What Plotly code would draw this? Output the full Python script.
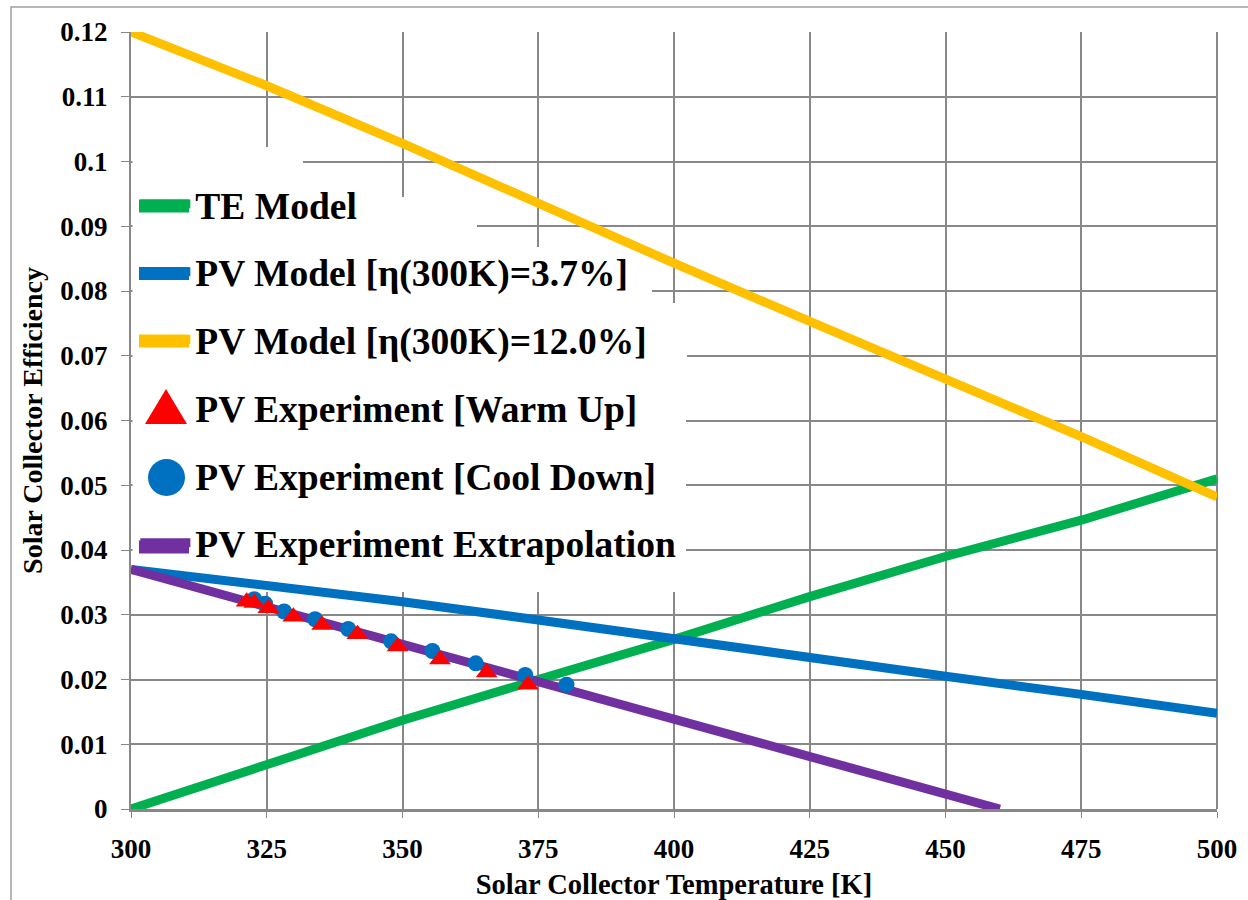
import plotly.graph_objects as go

# ---- data ----
temp_model = [300, 325, 350, 375, 400, 425, 450, 475, 500]
te_model = [0.0, 0.0068, 0.0137, 0.0200, 0.0262, 0.0328, 0.0390, 0.0446, 0.0510]
pv_model_37 = [0.0370, 0.0346, 0.0320, 0.0292, 0.0262, 0.0234, 0.0205, 0.0177, 0.0148]
pv_model_120 = [0.1200, 0.1117, 0.1028, 0.0935, 0.0843, 0.0753, 0.0664, 0.0575, 0.0482]

warm_T = [321.3, 322.7, 325.3, 329.9, 335.2, 341.7, 349.1, 356.9, 365.5, 373.1]
warm_eff = [0.0320, 0.0318, 0.0310, 0.0297, 0.0284, 0.0270, 0.0251, 0.0231, 0.0211, 0.0192]

cool_T = [322.7, 324.7, 328.2, 333.9, 340.0, 347.9, 355.5, 363.5, 372.6, 380.2]
cool_eff = [0.0324, 0.0317, 0.0305, 0.0293, 0.0278, 0.0259, 0.0244, 0.0225, 0.0207, 0.0192]

extrap_T = [300, 350, 400, 460]
extrap_eff = [0.0370, 0.0254, 0.0140, 0.0]

x_ticks = [300, 325, 350, 375, 400, 425, 450, 475, 500]
y_ticks = [0, 0.01, 0.02, 0.03, 0.04, 0.05, 0.06, 0.07, 0.08, 0.09, 0.1, 0.11, 0.12]
y_ticktext = ["0", "0.01", "0.02", "0.03", "0.04", "0.05", "0.06", "0.07", "0.08",
              "0.09", "0.1", "0.11", "0.12"]

FONT = "Liberation Serif"
GREEN, BLUE, YELLOW, RED, PURPLE = "#00B050", "#0070C0", "#FFC000", "#FF0000", "#7030A0"

X_RANGE = [300, 500]
Y_RANGE = [0, 0.12]
# plot-area geometry (pixels) used to place legend decorations
L, R, T, B = 131, 1217, 32, 809


def px(x):
    return (x - L) / (R - L)


def py(y):
    return (B - y) / (B - T)


def dx(x):
    return X_RANGE[0] + px(x) * (X_RANGE[1] - X_RANGE[0])


def dy(y):
    return Y_RANGE[0] + py(y) * (Y_RANGE[1] - Y_RANGE[0])


fig = go.Figure()
fig.add_trace(go.Scatter(x=temp_model, y=te_model, mode="lines", name="TE Model",
                         line=dict(color=GREEN, width=9), legendrank=1, legendgroup="a"))
fig.add_trace(go.Scatter(x=temp_model, y=pv_model_37, mode="lines",
                         name="PV Model [η(300K)=3.7%]",
                         line=dict(color=BLUE, width=9), legendrank=2, legendgroup="b"))
fig.add_trace(go.Scatter(x=temp_model, y=pv_model_120, mode="lines",
                         name="PV Model [η(300K)=12.0%]",
                         line=dict(color=YELLOW, width=9), legendrank=3, legendgroup="c"))
fig.add_trace(go.Scatter(x=extrap_T, y=extrap_eff, mode="lines",
                         name="PV Experiment Extrapolation",
                         line=dict(color=PURPLE, width=9), legendrank=6, legendgroup="f"))
fig.add_trace(go.Scatter(x=cool_T, y=cool_eff, mode="markers",
                         name="PV Experiment [Cool Down]",
                         marker=dict(color=BLUE, size=16, symbol="circle"),
                         legendrank=5, legendgroup="e"))
fig.add_trace(go.Scatter(x=warm_T, y=warm_eff, mode="markers",
                         name="PV Experiment [Warm Up]",
                         marker=dict(color=RED, size=19, symbol="triangle-up"),
                         legendrank=4, legendgroup="d"))

shapes = []
# outer chart border (top and left visible)
shapes.append(dict(type="rect", xref="paper", yref="paper",
                   x0=px(11), y0=py(950), x1=px(1300), y1=py(7),
                   line=dict(color="#A0A0A0", width=1.5), fillcolor="rgba(0,0,0,0)",
                   layer="below"))
# right frame line
shapes.append(dict(type="line", xref="paper", yref="paper", x0=1, x1=1, y0=0, y1=1,
                   line=dict(color="#888888", width=2), layer="below"))
# white legend-entry backgrounds (hide gridlines, sit below traces)
for (x0, y0, x1, y1) in [(131, 147, 303, 197), (131, 197, 477, 247), (131, 247, 652, 303),
                         (131, 303, 687, 375), (131, 375, 686, 592)]:
    shapes.append(dict(type="rect", xref="x", yref="y",
                       x0=dx(x0 + 1.5), x1=dx(x1), y0=dy(y1), y1=dy(y0),
                       line=dict(width=0), fillcolor="white", layer="between"))
# larger legend symbols
for (cy, col) in [(206, GREEN), (273.5, BLUE), (341, YELLOW), (547, PURPLE)]:
    shapes.append(dict(type="rect", xref="paper", yref="paper",
                       x0=px(139), x1=px(189), y0=py(cy + 6.5), y1=py(cy - 6.5),
                       line=dict(width=0), fillcolor=col, layer="above"))
shapes.append(dict(type="path", xref="paper", yref="paper",
                   path="M {},{} L {},{} L {},{} Z".format(px(145), py(424), px(187), py(424),
                                                          px(166), py(389)),
                   line=dict(width=0), fillcolor=RED, layer="above"))
shapes.append(dict(type="circle", xref="paper", yref="paper",
                   x0=px(148), x1=px(185), y0=py(496), y1=py(459),
                   line=dict(width=0), fillcolor=BLUE, layer="above"))

fig.update_layout(
    width=1248, height=900,
    margin=dict(l=L, r=1248 - R, t=T, b=900 - B),
    paper_bgcolor="white", plot_bgcolor="white",
    font=dict(family=FONT, color="black"),
    showlegend=True,
    shapes=shapes,
    legend=dict(x=0.004, y=0.8185, xanchor="left", yanchor="top",
                bgcolor="rgba(0,0,0,0)", borderwidth=0,
                font=dict(family=FONT, size=37.5, color="black", weight="bold"),
                tracegroupgap=16, itemsizing="trace", itemwidth=50),
    xaxis=dict(range=X_RANGE, tickvals=x_ticks, showgrid=True,
               gridcolor="#888888", gridwidth=1.5,
               showline=True, linecolor="#888888", linewidth=3, mirror=False,
               ticks="outside", ticklen=6, tickcolor="#888888",
               tickfont=dict(family=FONT, size=27, weight="bold"),
               ticklabelstandoff=8, automargin=False,
               title=dict(text="Solar Collector Temperature [K]",
                          font=dict(family=FONT, size=28.5, weight="bold"), standoff=11),
               zeroline=False),
    yaxis=dict(range=Y_RANGE, tickvals=y_ticks, ticktext=y_ticktext, showgrid=True,
               gridcolor="#888888", gridwidth=1.5,
               showline=True, linecolor="#888888", linewidth=2,
               ticks="outside", ticklen=8, tickcolor="#888888",
               tickfont=dict(family=FONT, size=27, weight="bold"),
               ticklabelstandoff=8, automargin=False,
               title=dict(text="Solar Collector Efficiency",
                          font=dict(family=FONT, size=28, weight="bold"), standoff=10),
               zeroline=False),
)

fig.write_html("out.html")
